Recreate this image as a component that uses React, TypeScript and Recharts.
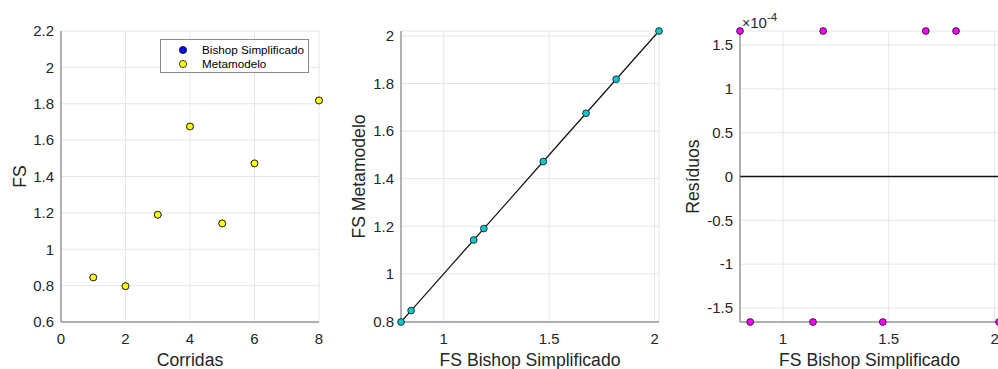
import React from 'react';
import {
    ScatterChart,
    Scatter,
    XAxis,
    YAxis,
    CartesianGrid,
    Legend,
    Label,
    ReferenceLine,
} from 'recharts';

// corridas (run 7 is not drawn in the left panel)
const runs = [1, 2, 3, 4, 5, 6, 8];
const fsBishopRuns = [0.845, 0.797, 1.19, 1.675, 1.142, 1.472, 1.818];
const fsMetaRuns = [0.845, 0.797, 1.19, 1.675, 1.142, 1.472, 1.818];

// sorted FS values for the comparison panels
const fsBishop = [0.797, 0.845, 1.142, 1.19, 1.472, 1.675, 1.818, 2.021];
const fsMeta = [0.797, 0.845, 1.142, 1.19, 1.472, 1.675, 1.818, 2.021];
const residuals = [
    1.66e-4, -1.66e-4, -1.66e-4, 1.66e-4, -1.66e-4, 1.66e-4, 1.66e-4, -1.66e-4,
];

const runTicks = [0, 2, 4, 6, 8];
const fsTicks = [0.6, 0.8, 1, 1.2, 1.4, 1.6, 1.8, 2, 2.2];
const fsBishopTicks = [1, 1.5, 2];
const fsMetaTicks = [0.8, 1, 1.2, 1.4, 1.6, 1.8, 2];
const residualTicks = [-1.5e-4, -1e-4, -0.5e-4, 0, 0.5e-4, 1e-4, 1.5e-4];

const FONT = '"Liberation Sans", Arial, Helvetica, sans-serif';
const TEXT = '#262626';
const AXIS = '#6e6e6e';
const GRID = '#e6e6e6';

const runData = (vals: number[]) => runs.map((r, i) => ({ x: r, y: vals[i] }));
const metaData = fsBishop.map((b, i) => ({ x: b, y: fsMeta[i] }));
const residualData = fsBishop.map((b, i) => ({ x: b, y: residuals[i] }));

const fmt = (v: number) => String(+v.toFixed(2));
const fmtE4 = (v: number) => String(+(v * 1e4).toFixed(2));

const tickStyle = { fontSize: 15, fill: TEXT, fontFamily: FONT };
const labelStyle = { fontSize: 17.6, fill: TEXT, fontFamily: FONT, textAnchor: 'middle' as const };

const dot = (fill: string) => (props: any) => (
    <circle cx={props.cx} cy={props.cy} r={3.4} fill={fill} stroke="#111" strokeWidth={0.8} />
);

const LegendBox = ({ payload }: any) => (
    <div
        style={{
            width: 147,
            height: 32,
            border: '1px solid #8a8a8a',
            background: '#fff',
            fontFamily: FONT,
            fontSize: 11.7,
            color: '#000',
            position: 'relative',
        }}
    >
        {(payload || []).map((p: any, i: number) => (
            <div
                key={p.value}
                style={{ position: 'absolute', left: 0, top: 3 + i * 14, height: 14, lineHeight: '14px' }}
            >
                <svg width={10} height={10} style={{ position: 'absolute', left: 17, top: 2 }}>
                    <circle cx={5} cy={5} r={3.6} fill={p.color} stroke="#111" strokeWidth={0.8} />
                </svg>
                <span style={{ position: 'absolute', left: 41, whiteSpace: 'nowrap' }}>{p.value}</span>
            </div>
        ))}
    </div>
);

const ExponentLabel = ({ viewBox }: any) => (
    <text x={viewBox.x + viewBox.width + 2} y={viewBox.y - 3.5} fill={TEXT} fontFamily={FONT} fontSize={15}>
        <tspan fontSize={14}>×</tspan>
        <tspan>10</tspan>
        <tspan dy={-7} fontSize={11.5}>-4</tspan>
    </text>
);

export default function App() {
    return (
        <div
            style={{
                position: 'absolute',
                left: 0,
                top: 0,
                width: 998,
                height: 369,
                overflow: 'hidden',
                background: '#fff',
            }}
        >
            <div style={{ position: 'absolute', left: 0, top: 0 }}>
                <ScatterChart width={330} height={369} margin={{ top: 31, right: 11, bottom: 0, left: 0 }}>
                    <CartesianGrid stroke={GRID} />
                    <XAxis
                        type="number"
                        dataKey="x"
                        domain={[0, 8]}
                        ticks={runTicks}
                        interval={0}
                        height={47}
                        tickLine={false}
                        tickSize={0}
                        tickMargin={11}
                        tick={tickStyle}
                        axisLine={{ stroke: AXIS }}
                        label={{ value: 'Corridas', position: 'insideBottom', offset: 3, style: labelStyle }}
                    />
                    <YAxis
                        type="number"
                        dataKey="y"
                        domain={[0.6, 2.2]}
                        ticks={fsTicks}
                        interval={0}
                        tickFormatter={fmt}
                        width={61}
                        tickLine={false}
                        tickSize={0}
                        tickMargin={7}
                        tick={tickStyle}
                        axisLine={{ stroke: AXIS }}
                        label={{ value: 'FS', angle: -90, position: 'insideLeft', offset: 19.5, style: labelStyle }}
                    />
                    <Legend
                        layout="vertical"
                        align="center"
                        verticalAlign="middle"
                        content={<LegendBox />}
                        wrapperStyle={{ left: 160, top: 39, width: 149, height: 34 }}
                    />
                    <Scatter
                        name="Bishop Simplificado"
                        data={runData(fsBishopRuns)}
                        fill="#0000ff"
                        shape={dot('#0000ff')}
                        isAnimationActive={false}
                    />
                    <Scatter
                        name="Metamodelo"
                        data={runData(fsMetaRuns)}
                        fill="#ffff00"
                        shape={dot('#ffff00')}
                        isAnimationActive={false}
                    />
                </ScatterChart>
            </div>

            <div style={{ position: 'absolute', left: 330, top: 0 }}>
                <ScatterChart width={340} height={369} margin={{ top: 31, right: 11, bottom: 0, left: 0 }}>
                    <CartesianGrid stroke={GRID} />
                    <XAxis
                        type="number"
                        dataKey="x"
                        domain={['dataMin', 'dataMax']}
                        ticks={fsBishopTicks}
                        interval={0}
                        tickFormatter={fmt}
                        height={47}
                        tickLine={false}
                        tickSize={0}
                        tickMargin={11}
                        tick={tickStyle}
                        axisLine={{ stroke: AXIS }}
                        label={{ value: 'FS Bishop Simplificado', position: 'insideBottom', offset: 3, style: labelStyle }}
                    />
                    <YAxis
                        type="number"
                        dataKey="y"
                        domain={['dataMin', 'dataMax']}
                        ticks={fsMetaTicks}
                        interval={0}
                        tickFormatter={fmt}
                        width={71}
                        tickLine={false}
                        tickSize={0}
                        tickMargin={7}
                        tick={tickStyle}
                        axisLine={{ stroke: AXIS }}
                        label={{ value: 'FS Metamodelo', angle: -90, position: 'insideLeft', offset: 28.5, style: labelStyle }}
                    />
                    <Scatter
                        data={metaData}
                        fill="#11c4c9"
                        shape={dot('#11c4c9')}
                        line={{ stroke: '#111', strokeWidth: 1.2 }}
                        isAnimationActive={false}
                    />
                </ScatterChart>
            </div>

            <div style={{ position: 'absolute', left: 670, top: 0 }}>
                <ScatterChart width={330} height={369} margin={{ top: 31, right: 1, bottom: 0, left: 0 }}>
                    <CartesianGrid stroke={GRID} />
                    <XAxis
                        type="number"
                        dataKey="x"
                        domain={['dataMin', 'dataMax']}
                        ticks={fsBishopTicks}
                        interval={0}
                        tickFormatter={fmt}
                        height={47}
                        tickLine={false}
                        tickSize={0}
                        tickMargin={11}
                        tick={tickStyle}
                        axisLine={{ stroke: AXIS }}
                        label={{ value: 'FS Bishop Simplificado', position: 'insideBottom', offset: 3, style: labelStyle }}
                    />
                    <YAxis
                        type="number"
                        dataKey="y"
                        domain={['dataMin', 'dataMax']}
                        ticks={residualTicks}
                        interval={0}
                        tickFormatter={fmtE4}
                        width={70}
                        tickLine={false}
                        tickSize={0}
                        tickMargin={7}
                        tick={tickStyle}
                        axisLine={{ stroke: AXIS }}
                        label={{ value: 'Resíduos', angle: -90, position: 'insideLeft', offset: 22.5, style: labelStyle }}
                    >
                        <Label content={<ExponentLabel />} />
                    </YAxis>
                    <ReferenceLine y={0} stroke="#111" strokeWidth={1.5} />
                    <Scatter
                        data={residualData}
                        fill="#ff00ff"
                        shape={dot('#ff00ff')}
                        isAnimationActive={false}
                    />
                </ScatterChart>
            </div>
        </div>
    );
}
